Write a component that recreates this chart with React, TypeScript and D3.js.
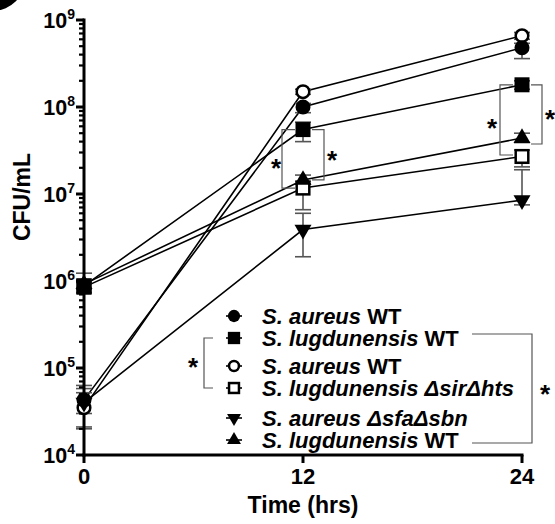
import React from "react";
import * as d3 from "d3";

// ---- data ----
const times = [0, 12, 24];
const xTicks = [0, 12, 24];
const yDecades = [4, 5, 6, 7, 8, 9];

// S. aureus WT (filled circle)
const aureusWT = [4.3e4, 1.0e8, 4.8e8];
const aureusWTLow = [2.1e4, 8.6e7, 3.6e8];
const aureusWTHigh = [6.3e4, 1.1e8, 5.4e8];
// S. lugdunensis WT (filled square)
const lugWT = [8.8e5, 5.5e7, 1.8e8];
const lugWTLow = [7.2e5, 4.0e7, 1.6e8];
const lugWTHigh = [1.23e6, 6.7e7, 2.0e8];
// S. aureus WT (open circle)
const aureusWT2 = [3.5e4, 1.5e8, 6.6e8];
const aureusWT2Low = [2.0e4, 1.4e8, 6.0e8];
const aureusWT2High = [5.8e4, 1.6e8, 7.2e8];
// S. lugdunensis ΔsirΔhts (open square)
const lugMut = [8.5e5, 1.17e7, 2.7e7];
const lugMutLow = [7.4e5, 6.6e6, 2.05e7];
const lugMutHigh = [9.6e5, 1.4e7, 3.2e7];
// S. aureus ΔsfaΔsbn (inverted triangle)
const aureusMut = [4.0e4, 3.9e6, 8.5e6];
const aureusMutLow = [3.0e4, 1.9e6, 7.5e6];
const aureusMutHigh = [5.2e4, 6.0e6, 1.9e7];
// S. lugdunensis WT (filled triangle)
const lugWT2 = [9.2e5, 1.45e7, 4.4e7];
const lugWT2Low = [8.0e5, 1.3e7, 3.9e7];
const lugWT2High = [1.05e6, 1.65e7, 5.0e7];

type Marker = "circle" | "square" | "oCircle" | "oSquare" | "tri" | "invTri";

const series: { v: number[]; lo: number[]; hi: number[]; m: Marker }[] = [
  { v: aureusWT2, lo: aureusWT2Low, hi: aureusWT2High, m: "oCircle" },
  { v: aureusWT, lo: aureusWTLow, hi: aureusWTHigh, m: "circle" },
  { v: lugMut, lo: lugMutLow, hi: lugMutHigh, m: "oSquare" },
  { v: lugWT2, lo: lugWT2Low, hi: lugWT2High, m: "tri" },
  { v: lugWT, lo: lugWTLow, hi: lugWTHigh, m: "square" },
  { v: aureusMut, lo: aureusMutLow, hi: aureusMutHigh, m: "invTri" },
];

const legendItems: { m: Marker; it: string; rest: string }[] = [
  { m: "circle", it: "S. aureus", rest: " WT" },
  { m: "square", it: "S. lugdunensis", rest: " WT" },
  { m: "oCircle", it: "S. aureus", rest: " WT" },
  { m: "oSquare", it: "S. lugdunensis \u0394sir\u0394hts", rest: "" },
  { m: "invTri", it: "S. aureus \u0394sfa\u0394sbn", rest: "" },
  { m: "tri", it: "S. lugdunensis", rest: " WT" },
];
const legendRowY = [316, 338, 366, 388, 418, 440];

const FONT = "'Liberation Sans', Arial, Helvetica, sans-serif";

function MarkerShape({ m, x, y, s = 1 }: { m: Marker; x: number; y: number; s?: number }) {
  const r = 7.5 * s;
  switch (m) {
    case "circle":
      return <circle cx={x} cy={y} r={r} fill="#000" />;
    case "oCircle":
      return <circle cx={x} cy={y} r={r - 1.2} fill="#fff" stroke="#000" strokeWidth={2.5} />;
    case "square":
      return <rect x={x - r} y={y - r} width={2 * r} height={2 * r} fill="#000" />;
    case "oSquare":
      return (
        <rect x={x - r + 1.2} y={y - r + 1.2} width={2 * r - 2.4} height={2 * r - 2.4} fill="#fff" stroke="#000" strokeWidth={2.5} />
      );
    case "tri":
    case "invTri": {
      const p = d3.symbol(d3.symbolTriangle, 125 * s * s)()!;
      return <path d={p} transform={`translate(${x},${y}) rotate(${m === "invTri" ? 180 : 0})`} fill="#000" />;
    }
  }
}

export default function App() {
  const x = d3.scaleLinear().domain([0, 24]).range([84, 522]);
  const y = d3.scaleLog().domain([1e4, 1e9]).range([455, 20]);
  const line = d3
    .line<number>()
    .x((_, i) => x(times[i]))
    .y((d) => y(d));

  const minor: number[] = [];
  for (let k = 4; k < 9; k++) for (let j = 2; j <= 9; j++) minor.push(j * Math.pow(10, k));

  const gray = "#555";
  const cap = 8;

  const bracket = (xv: number, y1: number, y2: number, dir: number, len: number) =>
    `M${xv + dir * len},${y1}H${xv}V${y2}H${xv + dir * len}`;

  return (
    <svg width={555} height={524} style={{ position: "absolute", left: 0, top: 0 }} fontFamily={FONT}>
      <rect width={555} height={524} fill="#fff" />
      <circle cx={-6} cy={-20} r={30.5} fill="#000" />

      {/* series lines */}
      {series.map((s, i) => (
        <path key={"l" + i} d={line(s.v)!} fill="none" stroke="#000" strokeWidth={1.6} />
      ))}

      {/* error bars */}
      {series.map((s, i) =>
        s.v.map((v, j) => (
          <g key={`e${i}-${j}`} stroke={gray} strokeWidth={1.6} fill="none">
            <line x1={x(times[j])} x2={x(times[j])} y1={y(s.lo[j])} y2={y(s.hi[j])} />
            <line x1={x(times[j]) - cap} x2={x(times[j]) + cap} y1={y(s.lo[j])} y2={y(s.lo[j])} />
            <line x1={x(times[j]) - cap} x2={x(times[j]) + cap} y1={y(s.hi[j])} y2={y(s.hi[j])} />
          </g>
        ))
      )}

      {/* axes */}
      <g stroke="#000" strokeWidth={3}>
        <line x1={84} x2={84} y1={18.5} y2={456.5} />
        <line x1={82.5} x2={523.5} y1={455} y2={455} />
        {xTicks.map((t) => (
          <line key={"xt" + t} x1={x(t)} x2={x(t)} y1={455} y2={463} />
        ))}
        {yDecades.map((k) => (
          <line key={"yt" + k} x1={76} x2={84} y1={y(Math.pow(10, k))} y2={y(Math.pow(10, k))} />
        ))}
        {minor.map((v, i) => (
          <line key={"ym" + i} x1={79} x2={84} y1={y(v)} y2={y(v)} strokeWidth={2.2} />
        ))}
      </g>

      {/* markers */}
      {series.map((s, i) =>
        s.v.map((v, j) => <MarkerShape key={`m${i}-${j}`} m={s.m} x={x(times[j])} y={y(v)} />)
      )}

      {/* tick labels */}
      {yDecades.map((k) => (
        <text key={"yl" + k} x={75} y={y(Math.pow(10, k)) + 8} textAnchor="end" fontWeight="bold" fontSize={21.5}>
          10
          <tspan fontSize={14} dy={-9}>
            {k}
          </tspan>
        </text>
      ))}
      {xTicks.map((t) => (
        <text key={"xl" + t} x={x(t)} y={484} textAnchor="middle" fontWeight="bold" fontSize={22}>
          {t}
        </text>
      ))}
      <text x={303} y={513} textAnchor="middle" fontWeight="bold" fontSize={23}>
        Time (hrs)
      </text>
      <text transform="translate(30,197) rotate(-90)" textAnchor="middle" fontWeight="bold" fontSize={23}>
        CFU/mL
      </text>

      {/* significance brackets in plot */}
      <g stroke={gray} strokeWidth={1.2} fill="none">
        <path d={bracket(282, y(lugWT[1]), y(lugMut[1]), 1, 13)} />
        <path d={bracket(324, y(lugWT[1]), y(lugWT2[1]), -1, 12)} />
        <path d={bracket(500, y(lugWT[2]), 155, 1, 13)} />
        <path d={bracket(542, y(lugWT[2]), 144, -1, 11)} />
      </g>
      <g fontWeight="bold" fontSize={26} textAnchor="middle">
        <text x={276} y={177}>*</text>
        <text x={332} y={169}>*</text>
        <text x={492} y={137}>*</text>
        <text x={550} y={128}>*</text>
      </g>

      {/* legend */}
      {legendItems.map((it, i) => (
        <g key={"lg" + i}>
          <line x1={226} x2={242} y1={legendRowY[i]} y2={legendRowY[i]} stroke="#000" strokeWidth={1.6} />
          <MarkerShape m={it.m} x={234} y={legendRowY[i]} s={0.82} />
          <text x={262} y={legendRowY[i] + 8} fontWeight="bold" fontSize={22}>
            <tspan fontStyle="italic">{it.it}</tspan>
            {it.rest}
          </text>
        </g>
      ))}
      <g stroke={gray} strokeWidth={1.2} fill="none">
        <path d={bracket(204, legendRowY[1], legendRowY[3], 1, 9)} />
        <path d={bracket(532, 334, 443, -1, 60)} />
      </g>
      <g fontWeight="bold" fontSize={26} textAnchor="middle">
        <text x={193} y={376}>*</text>
        <text x={545} y={403}>*</text>
      </g>
    </svg>
  );
}
